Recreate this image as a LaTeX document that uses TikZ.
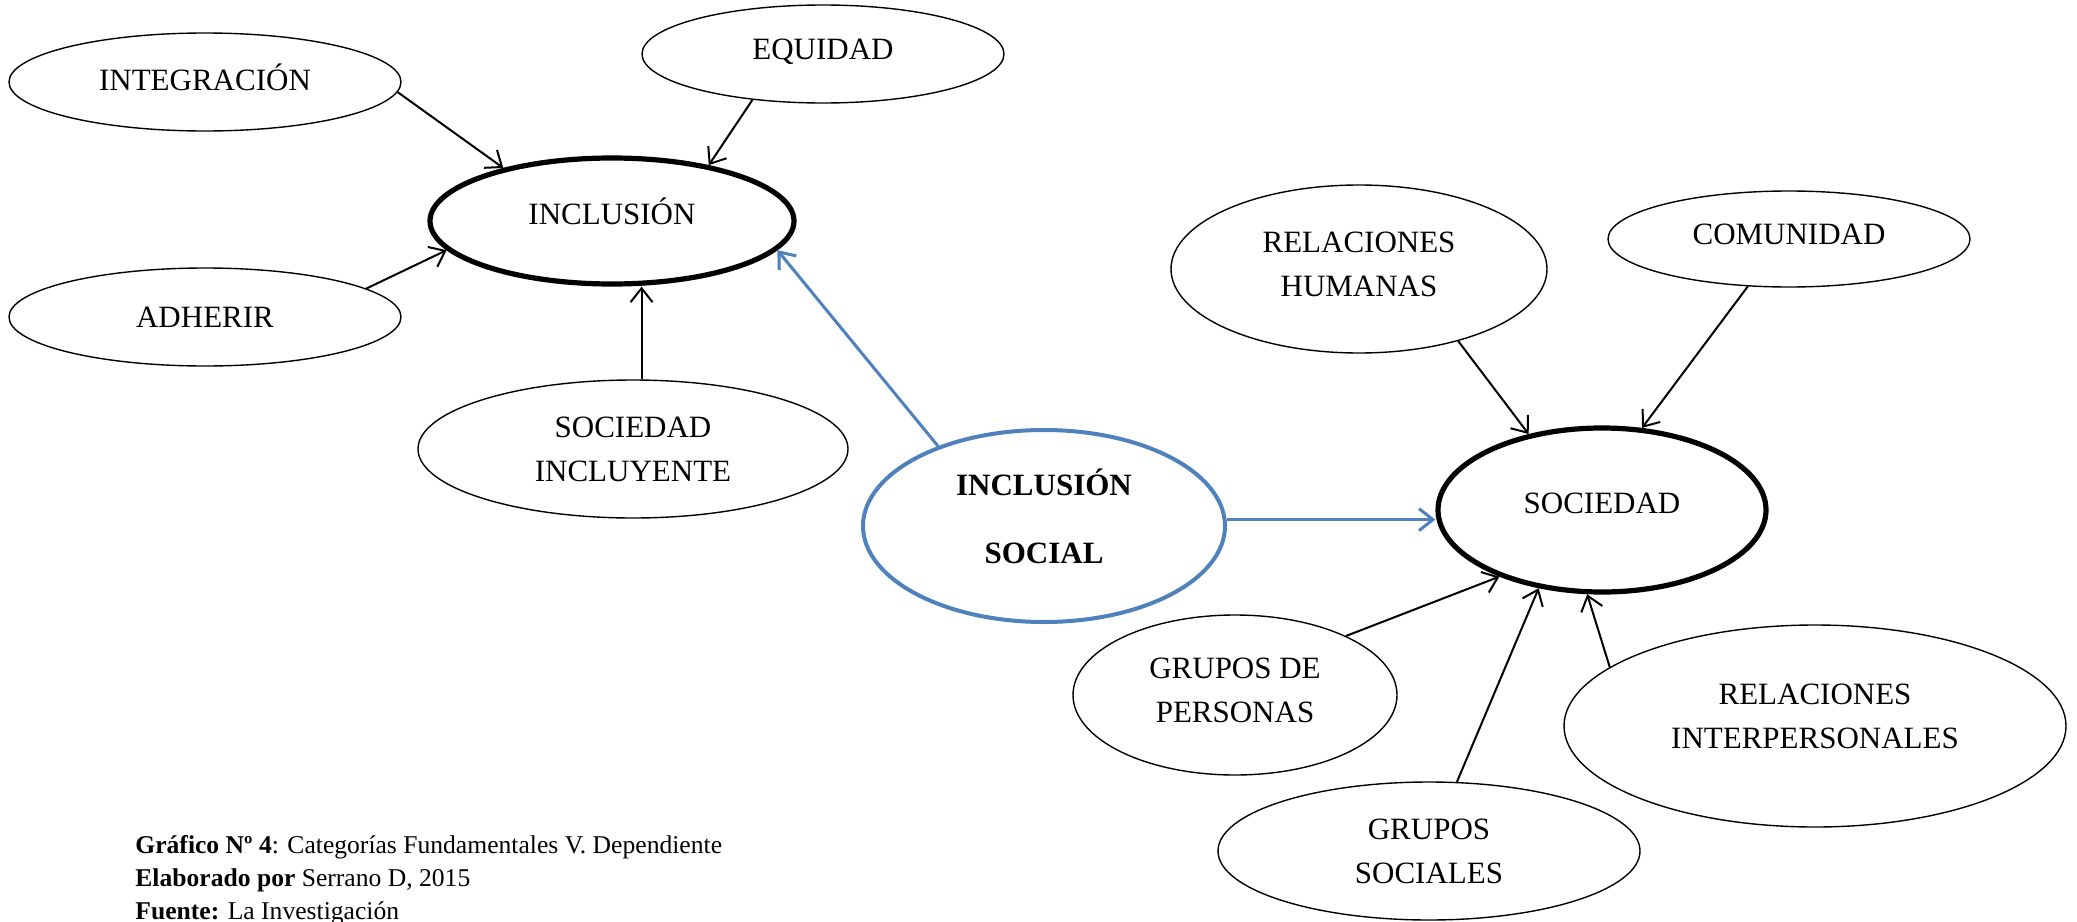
\documentclass[tikz,border=0pt]{standalone}
\usepackage{fontspec}
\setmainfont{Liberation Serif}
\usetikzlibrary{shapes.geometric,arrows.meta}
\definecolor{ablue}{RGB}{79,129,189}
\begin{document}
\begin{tikzpicture}[x=0.5pt,y=-0.5pt,
  bub/.style={ellipse,draw,line width=0.7pt,inner sep=0pt,align=center,font=\fontsize{15.5}{22}\selectfont},
  hub/.style={bub,line width=2.6pt},
  arr/.style={line width=1pt,-{Straight Barb[length=7pt,width=11pt]}},
  barr/.style={arr,draw=ablue,line width=1.5pt}]
\clip (0,0) rectangle (2077,921);
\fill[white] (0,0) rectangle (2077,921);
% left cluster
\node[bub,minimum width=196pt,minimum height=49pt,text depth=5pt] (integ) at (205,82) {INTEGRACIÓN};
\node[bub,minimum width=181pt,minimum height=49pt,text depth=5pt] (equi) at (823,54) {EQUIDAD};
\node[hub,minimum width=182pt,minimum height=63pt,text depth=10pt] (incl) at (612,221) {INCLUSIÓN};
\node[bub,minimum width=196pt,minimum height=49pt] (adh) at (205,317) {ADHERIR};
\node[bub,minimum width=215pt,minimum height=69pt] (socinc) at (633,449) {SOCIEDAD\\INCLUYENTE};
% centre
\node[bub,draw=ablue,line width=2pt,minimum width=181pt,minimum height=96pt,font=\bfseries\fontsize{15.5}{34}\selectfont,text depth=10pt] (incsoc) at (1044,526) {INCLUSIÓN\\SOCIAL};
% right cluster
\node[hub,minimum width=164pt,minimum height=82pt,text depth=7pt] (soc) at (1602,510) {SOCIEDAD};
\node[bub,minimum width=188pt,minimum height=84pt,text depth=5pt] (relh) at (1359,269) {RELACIONES\\HUMANAS};
\node[bub,minimum width=181pt,minimum height=48pt,text depth=5pt] (com) at (1789,239) {COMUNIDAD};
\node[bub,minimum width=162pt,minimum height=80pt,text depth=5pt] (gp) at (1235,695) {GRUPOS DE\\PERSONAS};
\node[bub,minimum width=251pt,minimum height=101pt,text depth=10pt] (reli) at (1815,726) {RELACIONES\\INTERPERSONALES};
\node[bub,minimum width=211pt,minimum height=69pt] (gs) at (1429,851) {GRUPOS\\SOCIALES};
% arrows
\draw[arr] (integ.-3) -- (incl.154);
\draw[arr] (equi.213) -- (incl.30);
\draw[arr] (adh.10) -- (incl.190);
\draw[arr] (socinc.83) -- (socinc.83 |- incl.south);
\draw[barr] (incsoc.143) -- (incl.-10);
\draw[barr] (incsoc.2.5) -- (incsoc.2.5 -| soc.west);
\draw[arr] (relh.-36) -- (soc.134);
\draw[arr] (com.229) -- (soc.64);
\draw[arr] (gp.28) -- (soc.213);
\draw[arr] (gs.68) -- (soc.231);
\draw[arr] (reli.164.5) -- (soc.260);
% caption
\node[anchor=base west,align=left,inner sep=0pt,font=\fontsize{12.8}{16.5}\selectfont] (cap) at (135,919)
  {\textbf{Gráfico Nº 4}: Categorías Fundamentales V. Dependiente\\
   \textbf{Elaborado por} Serrano D, 2015\\
   \textbf{Fuente:} La Investigación};
\end{tikzpicture}
\end{document}
